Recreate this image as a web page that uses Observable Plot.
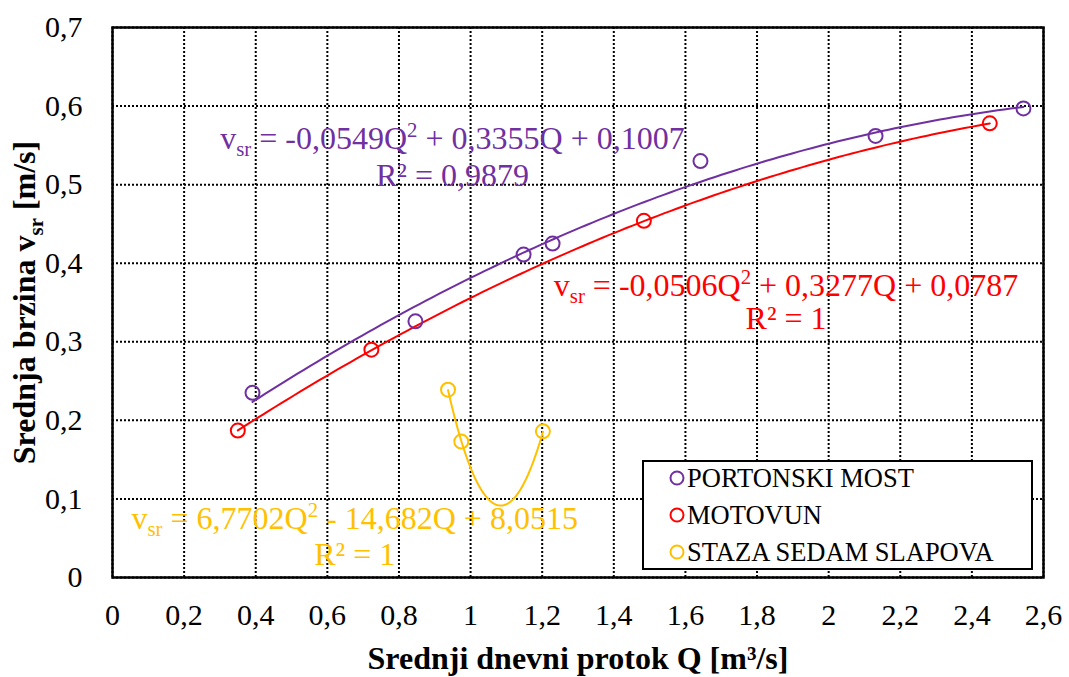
<!DOCTYPE html>
<html><head><meta charset="utf-8">
<script src="https://cdn.jsdelivr.net/npm/d3@7"></script>
<script src="https://cdn.jsdelivr.net/npm/@observablehq/plot@0.6"></script>
<style>
body{margin:0;background:#fff;}
#wrap{position:relative;width:1069px;height:677px;font-family:"Liberation Serif","Times New Roman",serif;}
#legend{position:absolute;left:642px;top:460px;width:387px;height:106px;border:2px solid #000;background:#fff;}
.item{position:absolute;left:0;height:37px;display:flex;align-items:center;font-size:26.5px;color:#000;white-space:nowrap;}
.item svg{margin-left:24px;margin-right:1px;}
</style></head><body><div id="wrap"></div>
<script>
// ---- data ----
const seriesNames = ["PORTONSKI MOST", "MOTOVUN", "STAZA SEDAM SLAPOVA"];
const seriesColors = ["#7030A0", "#FF0000", "#FFC000"];
const portonskiQ = [0.391, 0.846, 1.148, 1.229, 1.642, 2.131, 2.544];
const portonskiV = [0.235, 0.326, 0.411, 0.425, 0.530, 0.562, 0.597];
const motovunQ = [0.350, 0.723, 1.484, 2.450];
const motovunV = [0.187, 0.290, 0.454, 0.578];
const stazaQ = [0.937, 0.974, 1.202];
const stazaV = [0.239, 0.173, 0.186];
// polynomial trendline coefficients shown on the chart (a, b, c)
const trendCoefs = [[-0.0549, 0.3355, 0.1007], [-0.0506, 0.3277, 0.0787], [6.7702, -14.682, 8.0515]];
const eqLine1 = ["v_{sr} = -0,0549Q^{2} + 0,3355Q + 0,1007", "v_{sr} = -0,0506Q^{2} + 0,3277Q + 0,0787", "v_{sr} = 6,7702Q^{2} - 14,682Q + 8,0515"];
const eqLine2 = ["R² = 0,9879", "R² = 1", "R² = 1"];
const eqQ = [0.9495, 1.881, 0.6764];
const eqV1 = [0.5590, 0.3719, 0.0750];
const eqV2 = [0.5119, 0.3299, 0.0295];
const xTicks = [0, 0.2, 0.4, 0.6, 0.8, 1, 1.2, 1.4, 1.6, 1.8, 2, 2.2, 2.4, 2.6];
const yTicks = [0, 0.1, 0.2, 0.3, 0.4, 0.5, 0.6, 0.7];
const xLabel = "Srednji dnevni protok Q [m³/s]";
const yLabel = "Srednja brzina v_{sr} [m/s]";

// ---- build tables ----
const seriesQ = [portonskiQ, motovunQ, stazaQ];
const seriesV = [portonskiV, motovunV, stazaV];
const points = seriesQ.flatMap((qs, i) => qs.map((q, j) => ({s: i, Q: q, v: seriesV[i][j]})));
const curves = seriesQ.map((qs, i) => {
  const [a, b, c] = trendCoefs[i];
  const lo = d3.min(qs), hi = d3.max(qs), n = 120;
  return d3.range(n + 1).map(k => {
    const Q = lo + (hi - lo) * k / n;
    return {s: i, Q, v: a * Q * Q + b * Q + c};
  });
});
const eqs = seriesNames.map((_, i) => ({s: i, Q: eqQ[i], v1: eqV1[i], v2: eqV2[i], l1: eqLine1[i], l2: eqLine2[i]}));
const fmt = d => String(d).replace(".", ",");

const plot = Plot.plot({
  width: 1069, height: 677,
  marginLeft: 112, marginRight: 26, marginTop: 27, marginBottom: 100,
  style: {fontFamily: "'Liberation Serif', 'Times New Roman', serif", background: "white", color: "black", overflow: "visible"},
  x: {domain: [0, 2.6]},
  y: {domain: [0, 0.7]},
  marks: [
    Plot.gridX(xTicks, {stroke: "black", strokeOpacity: 1, strokeWidth: 2, strokeDasharray: "2,2"}),
    Plot.gridY(yTicks, {stroke: "black", strokeOpacity: 1, strokeWidth: 2, strokeDasharray: "2,2"}),
    Plot.axisX({ticks: xTicks, tickSize: 0, tickPadding: 26, fontSize: 30, tickFormat: fmt,
      label: xLabel, labelAnchor: "center", labelOffset: 91, labelArrow: "none"}),
    Plot.axisY({ticks: yTicks, tickSize: 0, tickPadding: 30, fontSize: 30, tickFormat: fmt,
      label: yLabel, labelAnchor: "center", labelOffset: 100, labelArrow: "none"}),
    ...curves.map((c, i) => Plot.line(c, {x: "Q", y: "v", stroke: seriesColors[i], strokeWidth: 2})),
    Plot.dot(points, {x: "Q", y: "v", r: 7, fill: "none", stroke: d => seriesColors[d.s], strokeWidth: 2}),
    Plot.text(eqs, {x: "Q", y: "v1", text: "l1", fill: d => seriesColors[d.s], fontSize: 32, textAnchor: "middle", lineAnchor: "middle"}),
    Plot.text(eqs, {x: "Q", y: "v2", text: "l2", fill: d => seriesColors[d.s], fontSize: 32, textAnchor: "middle", lineAnchor: "middle"}),
    Plot.frame({stroke: "black", strokeWidth: 2.5})
  ]
});

// rich text: _{..} subscript, ^{..} superscript
function richify(textEl, fs) {
  const s = textEl.textContent;
  if (!/[_^]\{/.test(s)) return;
  const parts = s.split(/([_^]\{[^}]*\})/);
  while (textEl.firstChild) textEl.removeChild(textEl.firstChild);
  let shift = 0;
  const ns = "http://www.w3.org/2000/svg";
  for (const p of parts) {
    if (!p) continue;
    const t = document.createElementNS(ns, "tspan");
    let target = 0, content = p, small = false;
    if (p.startsWith("_{")) { target = 0.24 * fs; content = p.slice(2, -1); small = true; }
    else if (p.startsWith("^{")) { target = -0.36 * fs; content = p.slice(2, -1); small = true; }
    t.setAttribute("dy", target - shift);
    shift = target;
    if (small) t.setAttribute("font-size", 0.65 * fs);
    t.textContent = content;
    textEl.appendChild(t);
  }
}
const svg = plot.tagName.toLowerCase() === "svg" ? plot : plot.querySelector("svg");
svg.querySelectorAll('[aria-label$="axis label"]').forEach(g => {
  g.setAttribute("font-size", 32);
  g.setAttribute("font-weight", "bold");
  g.querySelectorAll("text").forEach(t => richify(t, 32));
});
svg.querySelectorAll('[aria-label="text"] text').forEach(t => richify(t, 32));

const wrap = document.getElementById("wrap");
wrap.appendChild(plot);
const legend = document.createElement("div");
legend.id = "legend";
seriesNames.forEach((name, i) => {
  const it = document.createElement("div");
  it.className = "item";
  it.style.top = (-2.5 + 37 * i) + "px";
  it.innerHTML = `<svg width="18" height="18"><circle cx="9" cy="9" r="6.5" fill="none" stroke="${seriesColors[i]}" stroke-width="2"/></svg><span>${name}</span>`;
  legend.appendChild(it);
});
wrap.appendChild(legend);
</script></body></html>
